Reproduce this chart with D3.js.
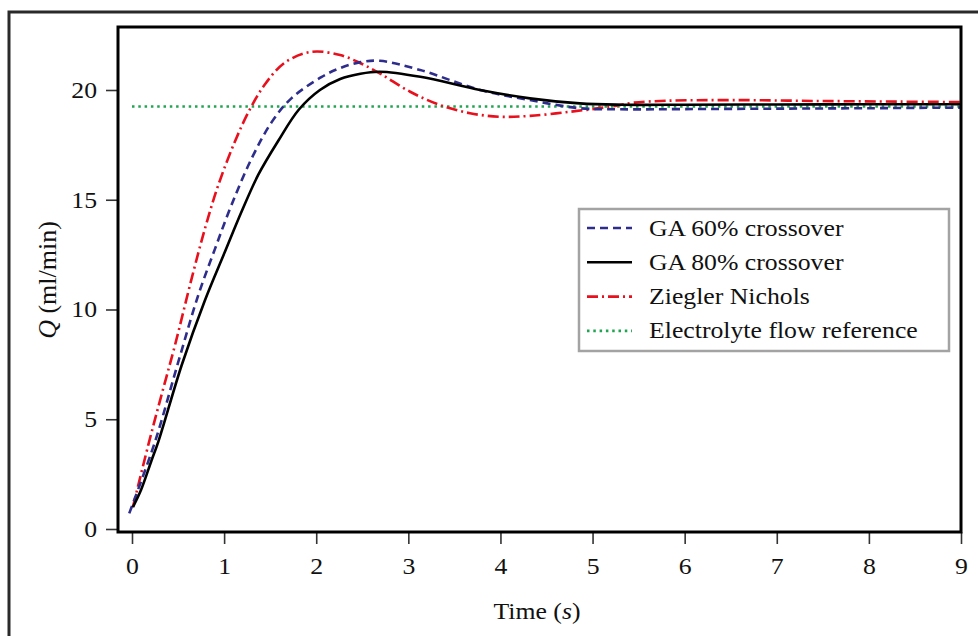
<!DOCTYPE html>
<html>
<head>
<meta charset="utf-8">
<script src="https://cdn.jsdelivr.net/npm/d3@7/dist/d3.min.js"></script>
<style>
  body { margin: 0; background: #fff; }
  text { font-family: "Liberation Serif", serif; fill: #111; }
</style>
</head>
<body>
<script>
// series values
var tGA60 = [-0.03, 0.25, 0.503, 0.72, 0.9, 1.08, 1.3, 1.52, 1.73, 2.06, 2.26, 2.48, 2.69, 3.13, 3.78, 4.32, 4.86, 5.3, 6, 7, 8, 9];
var qGA60 = [0.71, 3.98, 7.62, 10.66, 12.75, 14.76, 16.89, 18.56, 19.62, 20.6, 21.0, 21.27, 21.33, 20.91, 20.0, 19.54, 19.17, 19.12, 19.13, 19.15, 19.17, 19.2];

var tGA80 = [0.01, 0.1, 0.21, 0.286, 0.54, 0.79, 1.01, 1.19, 1.37, 1.59, 1.81, 2.04, 2.26, 2.48, 2.69, 3.13, 3.78, 4.32, 4.86, 5.3, 6, 7, 8, 9];
var qGA80 = [1.0, 1.8, 3.1, 3.98, 7.47, 10.4, 12.64, 14.46, 16.13, 17.7, 19.1, 20.0, 20.5, 20.74, 20.83, 20.6, 20.0, 19.62, 19.39, 19.33, 19.33, 19.34, 19.35, 19.35];

var tZN = [0.01, 0.177, 0.32, 0.467, 0.648, 0.793, 0.937, 1.12, 1.28, 1.44, 1.66, 1.95, 2.26, 2.48, 2.69, 3.02, 3.34, 3.67, 4.0, 4.32, 4.76, 5.19, 5.44, 5.81, 6.53, 7.44, 8.34, 9];
var qZN = [1.0, 3.83, 6.1, 8.38, 11.42, 13.7, 15.67, 17.68, 19.12, 20.24, 21.25, 21.74, 21.59, 21.22, 20.76, 19.92, 19.32, 18.94, 18.78, 18.82, 19.01, 19.24, 19.42, 19.51, 19.54, 19.5, 19.47, 19.45];

var tRef = [0, 9];
var qRef = [19.25, 19.25];

var xTicks = [0, 1, 2, 3, 4, 5, 6, 7, 8, 9];
var yTicks = [0, 5, 10, 15, 20];
var legendLabels = ["GA 60% crossover", "GA 80% crossover", "Ziegler Nichols", "Electrolyte flow reference"];

function zip(t, q) {
  return t.map(function(d, i) { return {t: d, q: q[i]}; });
}

var series = [
  {name: legendLabels[0], data: zip(tGA60, qGA60), color: "#2e2d8c", dash: "8,5"},
  {name: legendLabels[1], data: zip(tGA80, qGA80), color: "#000000", dash: null},
  {name: legendLabels[2], data: zip(tZN, qZN), color: "#e8101c", dash: "11,4,2,4"},
  {name: legendLabels[3], data: zip(tRef, qRef), color: "#22a552", dash: "2.5,3.8"}
];

const W = 978, H = 636;
const plotL = 118, plotR = 961, plotT = 27, plotB = 532;
const sx = 1.12; // the text in the picture is a bit wide

var svg = d3.select("body").append("svg")
  .attr("width", W)
  .attr("height", H);

// outer frame
svg.append("rect")
  .attr("x", 9).attr("y", 12)
  .attr("width", 1200).attr("height", 1200)
  .attr("fill", "none")
  .attr("stroke", "#2a2a2a")
  .attr("stroke-width", 3);

var x = d3.scaleLinear().domain([-0.152, 9]).range([plotL, plotR]);
var y = d3.scaleLinear().domain([-0.137, 22.87]).range([plotB, plotT]);

var xAxis = d3.axisBottom(x).tickValues(xTicks).tickSize(12).tickPadding(14).tickFormat(d3.format("d"));
var yAxis = d3.axisLeft(y).tickValues(yTicks).tickSize(12).tickPadding(9).tickFormat(d3.format("d"));

var gx = svg.append("g")
  .attr("transform", "translate(0," + plotB + ")")
  .call(xAxis);
var gy = svg.append("g")
  .attr("transform", "translate(" + plotL + ",0)")
  .call(yAxis);

[gx, gy].forEach(function(g) {
  g.select(".domain").remove();
  g.selectAll(".tick line").attr("stroke", "#333").attr("stroke-width", 1.6);
  g.selectAll(".tick text")
    .style("font-family", "Liberation Serif")
    .style("font-size", "23px")
    .attr("fill", "#111")
    .attr("transform", "scale(" + sx + ",1)");
});
gy.selectAll(".tick text").attr("x", -21 / sx);

var line = d3.line()
  .x(function(d) { return x(d.t); })
  .y(function(d) { return y(d.q); })
  .curve(d3.curveCatmullRom.alpha(0.5));

// draw reference first, then others
[3, 2, 0, 1].forEach(function(i) {
  var s = series[i];
  svg.append("path")
    .datum(s.data)
    .attr("d", line)
    .attr("fill", "none")
    .attr("stroke", s.color)
    .attr("stroke-width", 2.6)
    .attr("stroke-dasharray", s.dash);
});

// plot frame
svg.append("rect")
  .attr("x", plotL).attr("y", plotT)
  .attr("width", plotR - plotL).attr("height", plotB - plotT)
  .attr("fill", "none")
  .attr("stroke", "#000")
  .attr("stroke-width", 3);

// legend
var lg = svg.append("g");
lg.append("rect")
  .attr("x", 579).attr("y", 209)
  .attr("width", 370).attr("height", 142)
  .attr("fill", "#fff")
  .attr("stroke", "#a3a3a3")
  .attr("stroke-width", 2.5);

series.forEach(function(s, i) {
  var yy = 228 + i * 34.3;
  lg.append("line")
    .attr("x1", 587).attr("x2", 632)
    .attr("y1", yy).attr("y2", yy)
    .attr("stroke", s.color)
    .attr("stroke-width", 2.6)
    .attr("stroke-dasharray", s.dash);
  lg.append("text")
    .attr("transform", "translate(649," + yy + ") scale(" + sx + ",1)")
    .attr("dy", "0.33em")
    .style("font-size", "23px")
    .text(s.name);
});

// axis titles
var xt = svg.append("text")
  .attr("transform", "translate(537,619) scale(" + sx + ",1)")
  .attr("text-anchor", "middle")
  .style("font-size", "23px");
xt.append("tspan").text("Time (");
xt.append("tspan").style("font-style", "italic").text("s");
xt.append("tspan").text(")");

var yt = svg.append("text")
  .attr("transform", "translate(56,280) rotate(-90)")
  .attr("text-anchor", "middle")
  .style("font-size", "26px");
yt.append("tspan").style("font-style", "italic").text("Q");
yt.append("tspan").text(" (ml/min)");
</script>
</body>
</html>
